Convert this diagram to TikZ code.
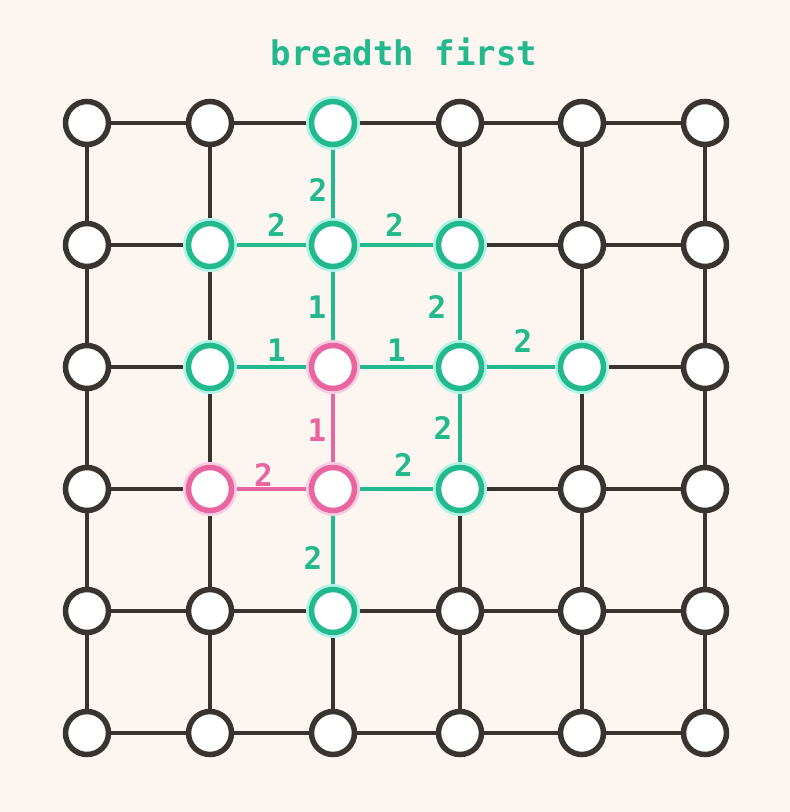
\documentclass[tikz,border=0pt]{standalone}
\usepackage{fontspec}
\newfontfamily\monofont{DejaVu Sans Mono}
\usetikzlibrary{backgrounds}
\definecolor{Paper}{HTML}{FDF6F0}
\definecolor{Ink}{HTML}{393430}
\definecolor{Teal}{HTML}{22BA8C}
\definecolor{TealGlow}{HTML}{B2F3E6}
\definecolor{Pink}{HTML}{E8659F}
\definecolor{PinkGlow}{HTML}{F8CDE1}

% which cells the search has reached
\tikzset{
  c20/.style=seen, c11/.style=seen, c21/.style=seen, c31/.style=seen,
  c12/.style=seen, c32/.style=seen, c42/.style=seen, c33/.style=seen,
  c24/.style=seen,
  c22/.style=done, c13/.style=done, c23/.style=done
}

\begin{document}
\begin{tikzpicture}[
  x=1pt,y=-1pt,
  dot/.style={circle,draw=Ink,fill=white,line width=5.5pt,minimum size=43pt,inner sep=0pt},
  seen/.style={draw=Teal,preaction={draw=TealGlow,line width=11pt}},
  done/.style={draw=Pink,preaction={draw=PinkGlow,line width=11pt}},
  wire/.style={draw=Ink,line width=3.6pt},
  tealwire/.style={draw=Teal,line width=3.8pt},
  pinkwire/.style={draw=Pink,line width=3.8pt},
  num/.style={font=\monofont\bfseries\fontsize{31}{31}\selectfont,text=Teal,inner sep=0pt},
  pinknum/.style={num,text=Pink}
]
  \useasboundingbox (0,0) rectangle (790,812);
  \node[font=\monofont\bfseries\fontsize{34}{34}\selectfont,text=Teal] (title) at (404,52) {breadth first};

  \foreach \i/\x in {0/87,1/210,2/333,3/460,4/582,5/705}
    \foreach \j/\y in {0/123,1/245,2/367,3/489,4/611,5/733}
      \node[dot,c\i\j/.try] (n\i\j) at (\x,\y) {};

  \begin{pgfonlayer}{background}
    \fill[Paper] (0,0) rectangle (790,812);
    \foreach \i [evaluate=\i as \k using int(\i+1)] in {0,...,4}
      \foreach \j in {0,...,5} {
        \draw[wire] (n\i\j) -- (n\k\j);
        \draw[wire] (n\j\i) -- (n\j\k);
      }
    % edges the search went along
    \draw[tealwire] (n20) -- node[num,xshift=-15pt,yshift=-6pt] {2} (n21);
    \draw[tealwire] (n11) -- node[num,xshift=5pt,yshift=20pt] {2} (n21);
    \draw[tealwire] (n21) -- node[num,xshift=-2pt,yshift=20pt] {2} (n31);
    \draw[tealwire] (n21) -- node[num,xshift=-16pt,yshift=-1pt] {1} (n22);
    \draw[tealwire] (n31) -- node[num,xshift=-23pt,yshift=-1pt] {2} (n32);
    \draw[tealwire] (n12) -- node[num,xshift=5pt,yshift=17pt] {1} (n22);
    \draw[tealwire] (n22) -- node[num,yshift=17pt] {1} (n32);
    \draw[tealwire] (n32) -- node[num,xshift=2pt,yshift=26pt] {2} (n42);
    \draw[tealwire] (n32) -- node[num,xshift=-17pt] {2} (n33);
    \draw[tealwire] (n23) -- node[num,xshift=7pt,yshift=24pt] {2} (n33);
    \draw[tealwire] (n23) -- node[num,xshift=-20pt,yshift=-8pt] {2} (n24);
    \draw[pinkwire] (n22) -- node[pinknum,xshift=-16pt,yshift=-2pt] {1} (n23);
    \draw[pinkwire] (n13) -- node[pinknum,xshift=-8pt,yshift=14pt] {2} (n23);
  \end{pgfonlayer}
\end{tikzpicture}
\end{document}
